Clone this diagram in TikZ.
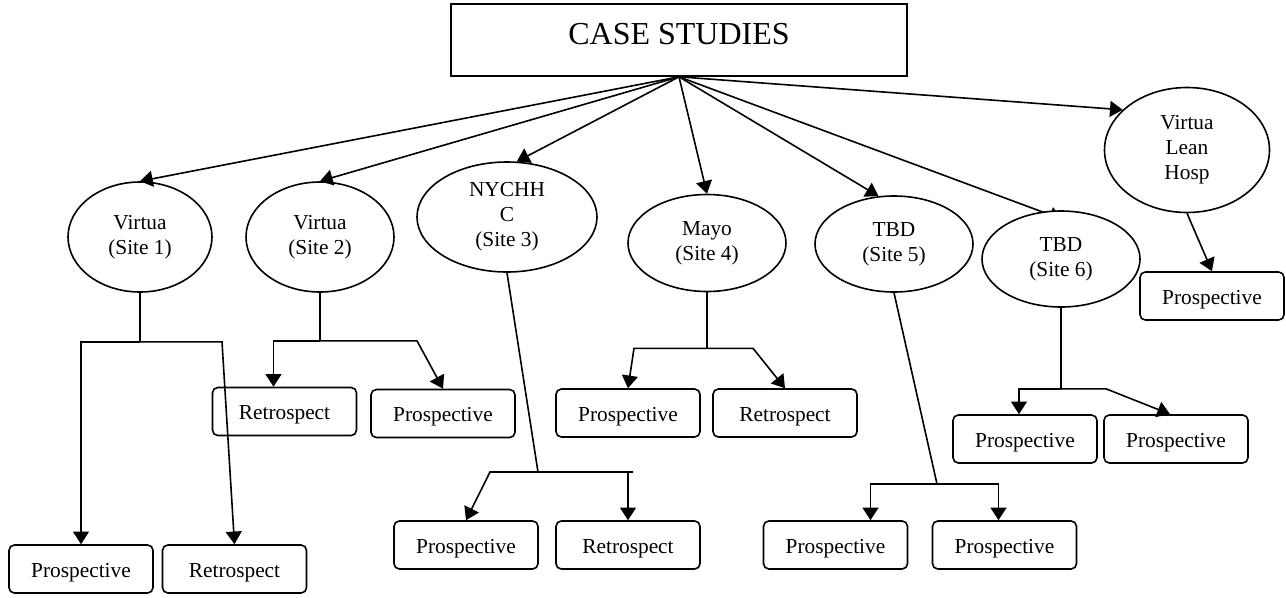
\documentclass[tikz,border=0pt]{standalone}
\usepackage{fontspec}
\setmainfont{Liberation Serif}
\usetikzlibrary{arrows.meta,calc,shapes.geometric}
\pgfdeclarelayer{back}
\pgfsetlayers{back,main}

\begin{document}
\begin{tikzpicture}[x=0.75pt,y=-0.75pt,every path/.append style={line width=1.2pt},
    site/.style={draw,ellipse,fill=white,inner sep=0pt,align=center,font=\fontsize{16}{18.75}\selectfont},
    study/.style={draw,rounded corners=4pt,minimum width=108pt,minimum height=36pt,inner sep=0pt,
      text height=12pt,text depth=0pt,font=\fontsize{16}{18.75}\selectfont},
    arr/.style={-{Triangle[length=9.5pt,width=12pt]}}]
  \useasboundingbox (0,0) rectangle (1286,597);
  \node[draw,minimum width=342pt,minimum height=54pt,text depth=9pt,font=\fontsize{24}{28}\selectfont] (cs) at (679,40) {CASE STUDIES};
  % sites
  \node[site,minimum width=108pt,minimum height=82.5pt] (s1) at (140,237) {Virtua\\(Site 1)};
  \node[site,minimum width=111pt,minimum height=82.5pt] (s2) at (320,237) {Virtua\\(Site 2)};
  \node[site,minimum width=135pt,minimum height=82.5pt] (s3) at (507,217) {NYCHH\\C\\(Site 3)};
  \node[site,minimum width=118.5pt,minimum height=72.75pt] (s4) at (707,243) {Mayo\\(Site 4)};
  \node[site,minimum width=118.5pt,minimum height=72pt] (s5) at (894,244) {TBD\\(Site 5)};
  \node[site,minimum width=118.5pt,minimum height=72pt] (s6) at (1061,259) {TBD\\(Site 6)};
  \node[site,minimum width=123.75pt,minimum height=93.75pt] (s7) at (1187,150) {Virtua\\Lean\\Hosp};
  % studies
  \node[study] (p1) at (81,569) {Prospective};
  \node[study] (r1) at (234.5,569) {Retrospect};
  \node[study] (r2) at (284.5,411.5) {Retrospect};
  \node[study] (p2) at (443,413.5) {Prospective};
  \node[study] (p3) at (466,545) {Prospective};
  \node[study] (r3) at (628,545) {Retrospect};
  \node[study] (p4) at (628,413) {Prospective};
  \node[study] (r4) at (785,413) {Retrospect};
  \node[study] (p5a) at (835.5,545) {Prospective};
  \node[study] (p5b) at (1004.5,545) {Prospective};
  \node[study] (p6a) at (1025,439) {Prospective};
  \node[study] (p6b) at (1176,439) {Prospective};
  \node[study] (p7) at (1212,296) {Prospective};
  % from the top box
  \draw[arr] (cs.south) -- (s1.north);
  \draw[arr] (cs.south) -- (s2.north);
  \draw[arr] (cs.south) -- (s3.80);
  \draw[arr] (cs.south) -- (s4.north);
  \draw[arr] (cs.south) -- (s5.108);
  \begin{pgfonlayer}{back}
    \draw[arr] (cs.south) -- ($(s6.north)+(1,9)$);
  \end{pgfonlayer}
  \draw[arr] (cs.south) -- (s7.148);
  % site 1
  \coordinate (j1) at ($(s1.south)+(0,49)$);
  \draw (s1.south) -- (j1);
  \draw[arr] (j1) -| (p1.north);
  \draw[arr] (j1) -- ++(82,0) -- (r1.north);
  % site 2
  \coordinate (j2) at ($(s2.south)+(0,48)$);
  \draw (s2.south) -- (j2);
  \draw[arr] (j2) -| ($(r2.north)+(-11,0)$);
  \draw[arr] (j2) -- ++(97,0) -- (p2.north);
  % site 3
  \coordinate (j3) at (538,472);
  \draw (s3.south) -- (j3) -- ++(95,0);
  \draw[arr] (j3) -- ++(-48,0) -- (p3.north);
  \draw[arr] (r3.north |- j3) -- (r3.north);
  % site 4
  \coordinate (j4) at ($(s4.south)+(0,56)$);
  \draw (s4.south) -- (j4);
  \draw[arr] (j4) -- ++(-73,0) -- (p4.north);
  \draw[arr] (j4) -- ++(46,0) -- (r4.north);
  % site 5
  \coordinate (j5) at (937,484);
  \draw (s5.south) -- (j5);
  \draw[arr] (j5) -| ($(p5a.north)+(35,0)$);
  \draw[arr] (j5) -| ($(p5b.north)+(-6,0)$);
  % site 6
  \coordinate (j6) at ($(s6.south)+(0,81)$);
  \draw (s6.south) -- (j6);
  \draw[arr] (j6) -| ($(p6a.north)+(-6,0)$);
  \draw[arr] (j6) -- ++(45,0) -- ($(p6b.north)+(-6,0)$);
  % lean hospital
  \draw[arr] (s7.south) -- (p7.north);
\end{tikzpicture}
\end{document}
